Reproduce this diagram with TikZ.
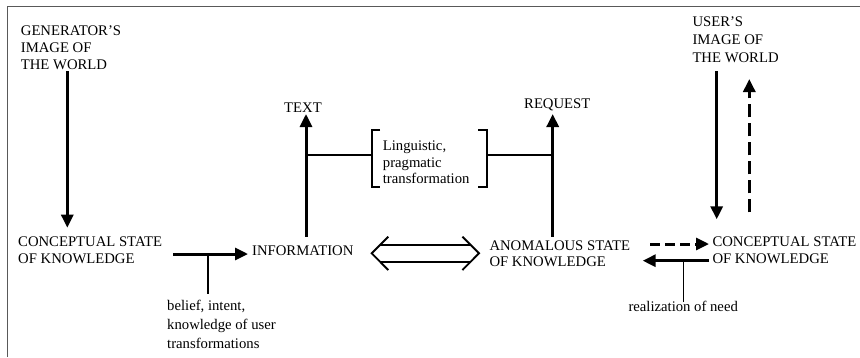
\documentclass[tikz,border=0pt]{standalone}
\usepackage{fontspec}
\setmainfont{Liberation Serif}
\usetikzlibrary{arrows.meta,calc}
% multi-line label whose baseline is the first line
\newcommand{\stackl}[1]{\begin{tabular}[t]{@{}l@{}}#1\end{tabular}}

\begin{document}
\begin{tikzpicture}[x=1pt,y=-1pt,
  lbl/.style={inner sep=0pt, anchor=base west, font=\fontsize{14.7}{17}\selectfont},
  lblwide/.style={lbl, font=\fontsize{14.7}{19}\selectfont},
  frame/.style={draw=black!65, line width=1.5pt},
  flow/.style={line width=3pt, -{Triangle[length=13pt,width=12pt]}},
  dashflow/.style={flow, dash pattern=on 10pt off 5pt},
  dashup/.style={flow, dash pattern=on 13pt off 6pt},
  tick/.style={line width=1.6pt},
  bracketline/.style={line width=1.8pt},
  twoway/.style={line width=1.9pt, line join=miter},
]
\useasboundingbox (0,0) rectangle (860,357);

% outer frame (top and left edges)
\draw[frame] (7.5,357) -- (7.5,6.5) -- (860,6.5);

% labels
\node[lbl] (gen) at (20.7,35) {\stackl{GENERATOR’S\\IMAGE OF\\THE WORLD}};
\node[lbl] (cskg) at (18,246.7) {\stackl{CONCEPTUAL STATE\\OF KNOWLEDGE}};
\node[lbl] (info) at (252,255) {INFORMATION};
\node[lbl] (text) at (284,112.7) {TEXT};
\node[lbl] (req) at (524,108.3) {REQUEST};
\node[lbl, font=\fontsize{14.7}{16.3}\selectfont] (ling) at (382.7,150.7) {\stackl{Linguistic,\\pragmatic\\transformation}};
\node[lbl, font=\fontsize{14.7}{16}\selectfont] (anom) at (489.3,250.7) {\stackl{ANOMALOUS STATE\\OF KNOWLEDGE}};
\node[lbl] (csku) at (712.3,246.7) {\stackl{CONCEPTUAL STATE\\OF KNOWLEDGE}};
\node[lbl, font=\fontsize{14.7}{17.8}\selectfont] (user) at (692.3,26.7) {\stackl{USER’S\\IMAGE OF\\THE WORLD}};
\node[lblwide] (belief) at (167,310) {\stackl{belief, intent,\\knowledge of user\\transformations}};
\node[lbl] (need) at (628.3,311.7) {realization of need};

% connector end points
\coordinate (genout) at (67.3,71);
\coordinate (cskgin) at (67.3,227.7);
\coordinate (cskgout) at (173,254);
\coordinate (infoin) at (248,254);
\coordinate (beliefjoin) at (208,254);
\coordinate (belieftop) at (208,294);
\coordinate (infoup) at (306,236.7);
\coordinate (textin) at (306,114);
\coordinate (anomup) at (552.7,236.7);
\coordinate (reqin) at (552.7,114);
\coordinate (anomout) at (650,244);
\coordinate (cskuin) at (709,244);
\coordinate (cskuout) at (709,260.7);
\coordinate (anomin) at (642.7,260.7);
\coordinate (needjoin) at (683.3,260.7);
\coordinate (needtop) at (683.3,301.7);
\coordinate (userout) at (716.7,71);
\coordinate (cskuinv) at (716.7,219.3);
\coordinate (cskuoutv) at (749.3,212.3);
\coordinate (userin) at (749.3,79);

% generator side
\draw[flow] (genout) -- (cskgin);
\draw[flow] (cskgout) -- (infoin);
\draw[tick] (beliefjoin) -- (belieftop);
\draw[flow] (infoup) -- (textin);

% linguistic transformation bracket and its links
\draw[tick] (infoup |- 0,154.7) -- (371.7,154.7);
\draw[bracketline] (380,130) -- (371.7,130) -- (371.7,186.7) -- (380,186.7);
\draw[bracketline] (478.3,130) -- (486.7,130) -- (486.7,186.7) -- (478.3,186.7);
\draw[tick] (486.7,154.7) -- (anomup |- 0,154.7);

% user side
\draw[flow] (anomup) -- (reqin);
\draw[dashflow] (anomout) -- (cskuin);
\draw[flow] (cskuout) -- (anomin);
\draw[tick] (needjoin) -- (needtop);
\draw[flow] (userout) -- (cskuinv);
\draw[dashup] (cskuoutv) -- (userin);

% open two-way arrow between information and anomalous state
\draw[twoway] (380,245) -- (470.7,245);
\draw[twoway] (380,261.6) -- (470.7,261.6);
\draw[twoway] (388.3,236.7) -- (371.7,253.3) -- (388.3,270);
\draw[twoway] (462.4,236.7) -- (479,253.3) -- (462.4,270);
\end{tikzpicture}
\end{document}
